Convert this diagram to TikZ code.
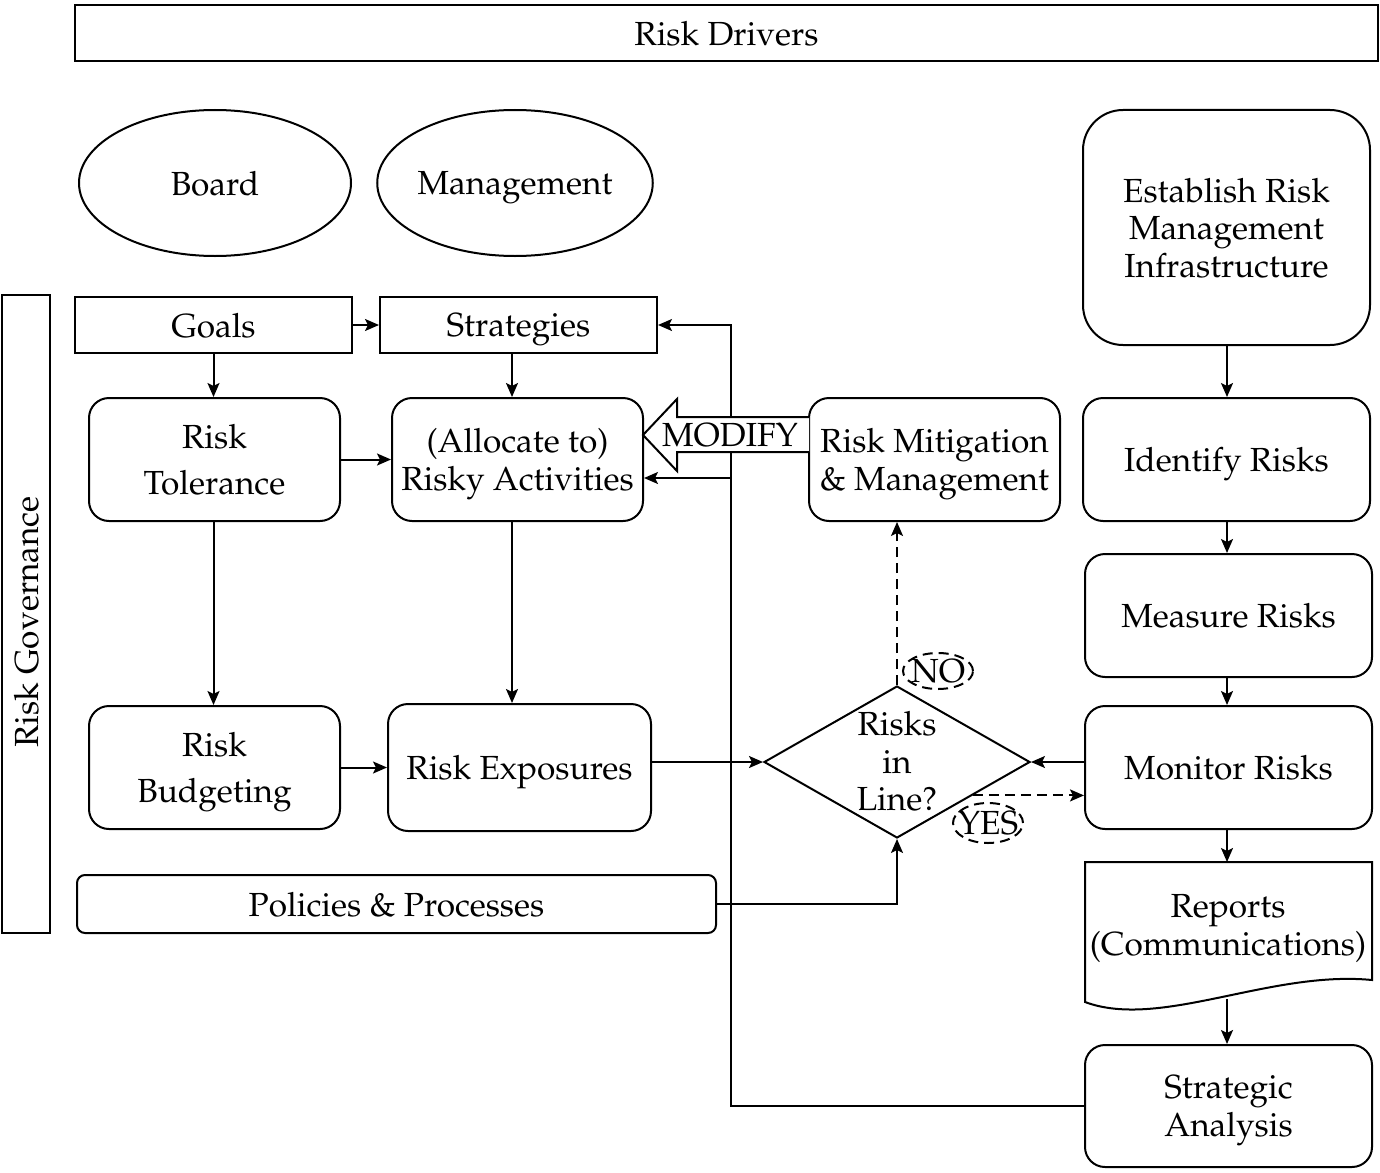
\documentclass[tikz,border=0pt]{standalone}
\usepackage[T1]{fontenc}
\usepackage{mathpazo}
\usetikzlibrary{shapes.geometric,arrows.meta,calc}
\begin{document}
\begin{tikzpicture}[x=0.5pt,y=-0.5pt, line width=1pt,
  >={Stealth[length=7pt,width=6pt,inset=1.5pt]},
  every node/.style={font=\fontsize{16.7}{18.75}\selectfont, align=center, inner sep=0pt, text depth=0pt},
  sq/.style={draw, rectangle},
  rbox/.style={draw, rounded corners=10pt, minimum width=125.5pt, minimum height=61.5pt},
  dsh/.style={dash pattern=on 5pt off 3pt}]
\useasboundingbox (0,0) rectangle (1380,1172);

% nodes
\node[sq, minimum width=651.5pt, minimum height=28pt] (drivers) at (726.5,33) {Risk Drivers};
\node[draw, ellipse, minimum width=136pt, minimum height=73pt] (board) at (215,183) {Board};
\node[draw, ellipse, minimum width=134pt, minimum height=73pt] (mgmt) at (515,183) {Management};
\node[draw, rounded corners=20pt, minimum width=143.5pt, minimum height=117.5pt] (estab) at (1226.5,227.5) {Establish Risk\\Management\\Infrastructure};
\node[sq, minimum width=24pt, minimum height=319pt] (gov) at (26,614) {};
\node[rotate=90] (govtxt) at (26,622) {Risk Governance};
\node[sq, minimum width=138.5pt, minimum height=28pt] (goals) at (213.5,325) {Goals};
\node[sq, minimum width=138.5pt, minimum height=28pt] (strat) at (518.5,325) {Strategies};
\node[rbox] (tol) at (214.5,459.5) {Risk\\[4.5pt]Tolerance};
\node[rbox] (alloc) at (517.5,459.5) {(Allocate to)\\Risky Activities};
\node[rbox] (mitig) at (934.5,459.5) {Risk Mitigation\\\& Management};
\node[rbox, minimum width=143.5pt] (ident) at (1226.5,459.5) {Identify Risks};
\node[rbox, minimum width=143.5pt] (measure) at (1228.5,615.5) {Measure Risks};
\node[rbox, minimum width=143.5pt] (monitor) at (1228.5,767.5) {Monitor Risks};
\node[rbox] (budget) at (214.5,767.5) {Risk\\[4.5pt]Budgeting};
\node[rbox, minimum width=131.5pt, minimum height=63.5pt] (expo) at (519.5,767.5) {Risk Exposures};
\node[draw, diamond, aspect=1.75, minimum width=133pt, minimum height=76pt] (diam) at (897,762) {};
\node (diamtxt) at (897,761) {Risks\\in\\Line?};
\node[draw, dsh, ellipse, minimum width=35pt, minimum height=18pt] (no) at (938,671) {};
\node (notxt) at (938,671) {NO};
\node[draw, dsh, ellipse, minimum width=35pt, minimum height=20pt] (yes) at (988,823) {};
\node (yestxt) at (988,823) {YES};
\node[draw, rounded corners=4pt, minimum width=319.5pt, minimum height=29pt] (pol) at (396.5,904) {Policies \& Processes};
\node (reports) at (1228,925) {Reports\\(Communications)};
\node[rbox, minimum width=143.5pt, minimum height=61pt] (strag) at (1228.5,1106) {Strategic\\Analysis};

% document shape for reports
\draw (1085,862) -- (1372,862) -- (1372,980) .. controls (1270,970) and (1160,1030) .. (1085,1002) -- cycle;

% coordinates
\coordinate (x512) at (512,0);
\coordinate (x1227) at (1227,0);
\coordinate (x731) at (731,0);
\coordinate (reptop) at (1227,862);
\coordinate (repbot) at (1227,999);
\coordinate (j3) at (731,478);

% connectors
\draw[->] (goals) -- (strat);
\draw[->] (goals.south) -- (goals.south |- tol.north);
\draw[->] (strat.south -| x512) -- (alloc.north -| x512);
\draw[->] (tol.east) -- (alloc.west);
\draw[->] (tol.south -| goals.south) -- (budget.north -| goals.south);
\draw[->] (alloc.south -| x512) -- (expo.north -| x512);
\draw[->] (budget.east) -- (expo.west);
\draw[->] (expo.east |- diam.west) -- (diam.west);
\draw[->] (monitor.west |- diam.east) -- (diam.east);
\draw[->, dsh] (diam.north) -- (mitig.south -| diam.north);
\coordinate (yesstart) at ($(diam.east)!0.434!(diam.south)$);
\draw[->, dsh] (yesstart) -- (monitor.west |- yesstart);
\draw[->] (pol.east) -| (diam.south);
\draw[->] (estab.south -| x1227) -- (ident.north -| x1227);
\draw[->] (ident.south -| x1227) -- (measure.north -| x1227);
\draw[->] (measure.south -| x1227) -- (monitor.north -| x1227);
\draw[->] (monitor.south -| x1227) -- (reptop);
\draw[->] (repbot) -- (strag.north -| x1227);
\draw[->] (strag.west) -- (strag.west -| x731) |- (strat.east);
\draw[->] (j3) -- (alloc.east |- j3);

% MODIFY block arrow
\filldraw[fill=white] (809,417) -- (677,417) -- (677,399) -- (643,435) -- (677,471) -- (677,452) -- (809,452);
\node (modify) at (730,435) {MODIFY};
\end{tikzpicture}
\end{document}
